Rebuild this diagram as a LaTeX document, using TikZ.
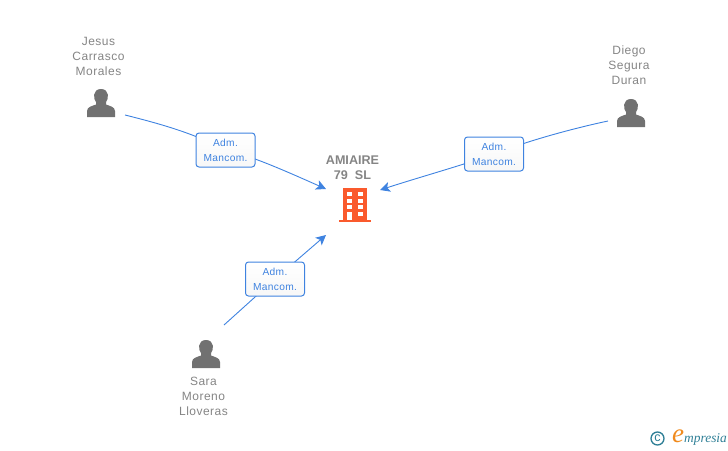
\documentclass[tikz,border=0pt]{standalone}
\usepackage{fontspec}
\setmainfont{Liberation Sans}
\newfontfamily\logofont{Liberation Serif}
\newfontfamily\spacedfont[LetterSpace=4]{Liberation Sans}
\newfontfamily\rolefont[LetterSpace=3]{Liberation Sans}
\usetikzlibrary{arrows.meta,backgrounds}
\definecolor{linkblue}{HTML}{3F83E0}
\definecolor{namegray}{HTML}{858585}
\definecolor{icongray}{HTML}{717171}
\definecolor{bldorange}{HTML}{FA5A2D}
\definecolor{logoteal}{HTML}{2F7F96}
\definecolor{logoorange}{HTML}{F08A1D}
\tikzset{
  x=1pt,y=-1pt,
  person/.style={font=\spacedfont\fontsize{12}{15}\selectfont,text=namegray,align=center,inner sep=0pt},
  title/.style={font=\bfseries\fontsize{12.6}{15}\selectfont,text=namegray,align=center,inner sep=0pt},
  rolebox/.style={draw=linkblue,line width=1pt,rounded corners=3pt,fill=white,
    top color=white,bottom color=black!3,
    minimum width=59pt,minimum height=34pt,inner sep=0pt,align=center,
    text=linkblue,font=\rolefont\fontsize{10.2}{15}\selectfont},
  link/.style={draw=linkblue,line width=0.9pt},
  linkarrow/.style={link,-{Stealth[length=10pt,width=10pt,inset=2.5pt]}},
  pics/usericon/.style={code={
    \fill[icongray] (-14,14) -- (-14,8) .. controls (-14,4) and (-9,3) .. (-5,1.5)
      -- (-5,-1) .. controls (-8,-4) and (-8.5,-14) .. (0,-14)
      .. controls (8.5,-14) and (8,-4) .. (5,-1) -- (5,1.5)
      .. controls (9,3) and (14,4) .. (14,8) -- (14,14) -- cycle;
  }}
}
\begin{document}
\begin{tikzpicture}
\useasboundingbox (0,0) rectangle (728,450);
% people
\node[person] (jesus) at (98.5,56) {Jesus\\Carrasco\\Morales};
\pic at (101,103) {usericon};
\node[person] (diego) at (629,65) {Diego\\Segura\\Duran};
\pic at (631,113) {usericon};
\node[person] (sara) at (203.5,396) {Sara\\Moreno\\Lloveras};
\pic at (206,354) {usericon};
% company
\node[title] (company) at (352.5,168) {AMIAIRE\\79\ \ SL};
\coordinate (bld) at (355,205);
\begin{scope}[shift={(bld)}]
  \fill[bldorange] (-12,-17) rectangle (12,15);
  \fill[bldorange] (-16,15) rectangle (16,17);
  \foreach \yy in {-13,-6.5,0}{
    \fill[white] (-8,\yy) rectangle (-3,\yy+4);
    \fill[white] (3,\yy) rectangle (8,\yy+4);
  }
  \fill[white] (3,6.5) rectangle (8,10.5);
  \fill[white] (-8,6.5) rectangle (-3,15);
\end{scope}
% role boxes
\node[rolebox] (r1) at (225.5,150) {Adm.\\Mancom.};
\node[rolebox] (r2) at (494,154) {Adm.\\Mancom.};
\node[rolebox] (r3) at (275,279) {Adm.\\Mancom.};
% connector ends
\coordinate (js) at (125,115);
\coordinate (jt) at (326,189);
\coordinate (ds) at (608,121);
\coordinate (dt) at (380,190);
\coordinate (ss) at (224,325);
\coordinate (st) at (326,235);
\begin{scope}[on background layer]
  \draw[link] (js) .. controls (165,125) and (195,134) .. (r1.center);
  \draw[linkarrow] (r1.center) .. controls (250,155) and (290,173) .. (jt);
  \draw[link] (ds) .. controls (575,128) and (530,140) .. (r2.center);
  \draw[linkarrow] (r2.center) .. controls (460,166) and (420,177) .. (dt);
  \draw[link] (ss) -- (r3.center);
  \draw[linkarrow] (r3.center) -- (st);
\end{scope}
% logo
\node[circle,draw=logoteal,line width=1.3pt,minimum size=13pt,inner sep=0pt,
  text=logoteal,font=\fontsize{12.5}{12.5}\selectfont] (copyr) at (657.5,438.5) {c};
\node[inner sep=0pt,text=logoorange,font=\logofont\itshape\fontsize{27}{27}\selectfont] (loge) at (678,436) {e};
\node[anchor=west,inner sep=0pt,text=logoteal,font=\logofont\itshape\fontsize{13.4}{15}\selectfont] (logt) at (684,439) {mpresia};
\end{tikzpicture}
\end{document}
